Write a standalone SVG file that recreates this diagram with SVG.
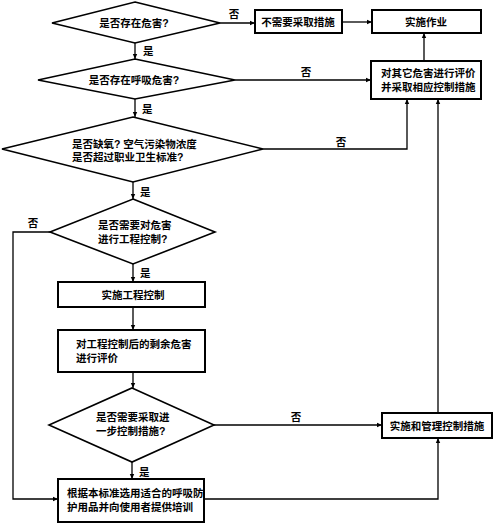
<svg xmlns="http://www.w3.org/2000/svg" width="494" height="532" viewBox="0 0 494 532">
<style>
.box{fill:#fff;stroke:#000;stroke-width:2}
.dia{fill:#fff;stroke:#000;stroke-width:1.6}
.t{font-family:"Liberation Sans","Noto Sans CJK SC",sans-serif;font-size:10.5px;font-weight:bold;fill:#000}
.c{text-anchor:middle}
.ln{fill:none;stroke:#000;stroke-width:1.3}
</style>
<defs>
<marker id="ar" markerWidth="6" markerHeight="6" refX="5" refY="3" orient="auto" markerUnits="userSpaceOnUse">
<path d="M0,0.8 L5,3 L0,5.2 Z" fill="#000"/>
</marker>
</defs>
<rect width="494" height="532" fill="#fff"/>
<g id="connectors">
<path class="ln" d="M220,23 H255" marker-end="url(#ar)"/>
<path class="ln" d="M342,22 H372" marker-end="url(#ar)"/>
<path class="ln" d="M424,61 V33" marker-end="url(#ar)"/>
<path class="ln" d="M135,43 V59" marker-end="url(#ar)"/>
<path class="ln" d="M235,80 H371" marker-end="url(#ar)"/>
<path class="ln" d="M135,99 V117" marker-end="url(#ar)"/>
<path class="ln" d="M263,149 H407 V99" marker-end="url(#ar)"/>
<path class="ln" d="M133,182 V199" marker-end="url(#ar)"/>
<path class="ln" d="M50,232 H13 V499 H58" marker-end="url(#ar)"/>
<path class="ln" d="M133,264 V282" marker-end="url(#ar)"/>
<path class="ln" d="M133,307 V330" marker-end="url(#ar)"/>
<path class="ln" d="M133,372 V388" marker-end="url(#ar)"/>
<path class="ln" d="M214,425 H382" marker-end="url(#ar)"/>
<path class="ln" d="M132,462 V479" marker-end="url(#ar)"/>
<path class="ln" d="M204,499 H438 V438" marker-end="url(#ar)"/>
<path class="ln" d="M438,413 V99" marker-end="url(#ar)"/>
<text class="t c" x="234" y="18">否</text>
<text class="t" x="143" y="55">是</text>
<text class="t c" x="306" y="76">否</text>
<text class="t" x="142" y="113">是</text>
<text class="t c" x="341" y="146">否</text>
<text class="t" x="140" y="196">是</text>
<text class="t c" x="33" y="227">否</text>
<text class="t" x="140" y="277">是</text>
<text class="t c" x="296" y="421">否</text>
<text class="t" x="139" y="476">是</text>
</g>
<g id="d1">
<polygon class="dia" points="135,2 220,23 135,43 52,23"/>
<text class="t c" x="134" y="27">是否存在危害?</text>
</g>
<g id="n_none">
<rect class="box" x="255" y="10" width="87" height="23"/>
<text class="t c" x="298" y="26">不需要采取措施</text>
</g>
<g id="n_work">
<rect class="box" x="372" y="10" width="109" height="23"/>
<text class="t c" x="426" y="26">实施作业</text>
</g>
<g id="d2">
<polygon class="dia" points="135,59 235,80 135,99 38,80"/>
<text class="t c" x="134" y="84">是否存在呼吸危害?</text>
</g>
<g id="n_other">
<rect class="box" x="371" y="61" width="110" height="38"/>
<text class="t" x="381" y="77">对其它危害进行评价</text>
<text class="t" x="381" y="91">并采取相应控制措施</text>
</g>
<g id="d3">
<polygon class="dia" points="133,117 263,149 133,182 2,149"/>
<text class="t" x="72" y="148">是否缺氧? 空气污染物浓度</text>
<text class="t" x="72" y="161">是否超过职业卫生标准?</text>
</g>
<g id="d4">
<polygon class="dia" points="133,199 215,232 133,264 50,232"/>
<text class="t" x="98" y="229">是否需要对危害</text>
<text class="t" x="98" y="243">进行工程控制?</text>
</g>
<g id="n_eng">
<rect class="box" x="58" y="282" width="147" height="25"/>
<text class="t c" x="133" y="299">实施工程控制</text>
</g>
<g id="n_eval">
<rect class="box" x="58" y="330" width="147" height="42"/>
<text class="t" x="76" y="348">对工程控制后的剩余危害</text>
<text class="t" x="76" y="362">进行评价</text>
</g>
<g id="d5">
<polygon class="dia" points="132,388 214,425 132,462 49,425"/>
<text class="t" x="96" y="421">是否需要采取进</text>
<text class="t" x="96" y="435">一步控制措施?</text>
</g>
<g id="n_mgmt">
<rect class="box" x="382" y="413" width="110" height="25"/>
<text class="t c" x="437" y="430">实施和管理控制措施</text>
</g>
<g id="n_ppe">
<rect class="box" x="58" y="479" width="146" height="43"/>
<text class="t" x="67" y="497">根据本标准选用适合的呼吸防</text>
<text class="t" x="67" y="511">护用品并向使用者提供培训</text>
</g>
</svg>
